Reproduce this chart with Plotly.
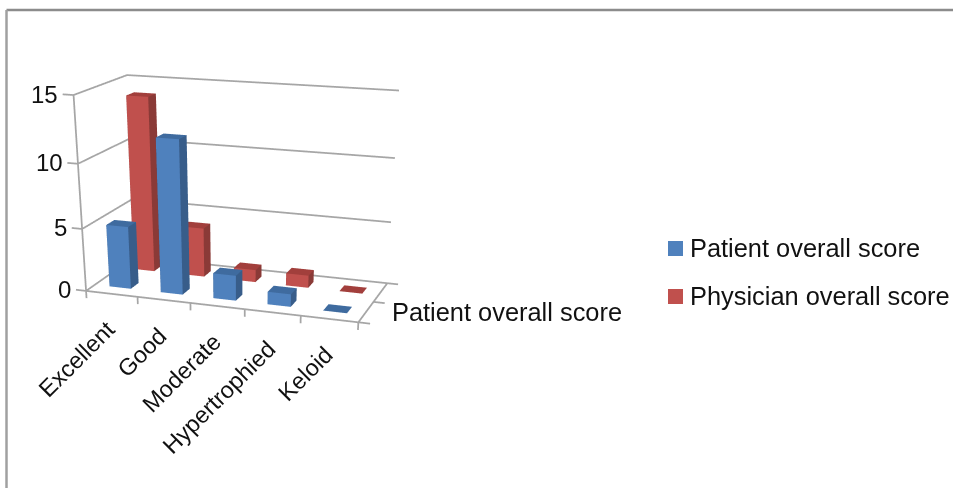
import plotly.graph_objects as go

categories = ["Excellent", "Good", "Moderate", "Hypertrophied", "Keloid"]
series_names = ["Patient overall score", "Physician overall score"]
patient_values = [5, 12, 2, 1, 0]
physician_values = [14, 4, 1, 1, 0]
z_ticks = [0, 5, 10, 15]

BAR_W = 0.42
BAR_D = 0.32
FONT = "Liberation Sans"
TXT = "#111111"
GRID = "#a6a6a6"
COL = [dict(front="#4f81bd", side="#385d8a", top="#3f6b9f"),
       dict(front="#c0504d", side="#8a3a37", top="#a23f3c")]
W, H = 953, 976  # the lower half falls below the window: a taller scene gives a flatter perspective


def bar_mesh(cat_i, ser_i, value, colors):
    x0, x1 = cat_i + 0.5 - BAR_W / 2, cat_i + 0.5 + BAR_W / 2
    y0, y1 = ser_i + 0.5 - BAR_D / 2, ser_i + 0.5 + BAR_D / 2
    xs = [x0, x1, x1, x0, x0, x1, x1, x0]
    ys = [y0, y0, y1, y1, y0, y0, y1, y1]
    zs = [0, 0, 0, 0, value, value, value, value]
    tris = [(0, 1, 5, "front"), (0, 5, 4, "front"),
            (1, 2, 6, "side"), (1, 6, 5, "side"),
            (4, 5, 6, "top"), (4, 6, 7, "top"),
            (0, 3, 7, "side"), (0, 7, 4, "side"),
            (3, 2, 6, "side"), (3, 6, 7, "side")]
    return go.Mesh3d(x=xs, y=ys, z=zs,
                     i=[t[0] for t in tris], j=[t[1] for t in tris], k=[t[2] for t in tris],
                     facecolor=[colors[t[3]] for t in tris], flatshading=True,
                     lighting=dict(ambient=1, diffuse=0, specular=0, roughness=1, fresnel=0),
                     hoverinfo="skip", showscale=False)


def line3d(xs, ys, zs):
    return go.Scatter3d(x=xs, y=ys, z=zs, mode="lines", line=dict(color=GRID, width=3.5),
                        hoverinfo="skip", showlegend=False)


fig = go.Figure()
nc, ns = len(categories), len(series_names)
for v in z_ticks[1:]:
    fig.add_trace(line3d([0, 0, nc], [0, ns, ns], [v, v, v]))
fig.add_trace(line3d([0, 0, nc, nc, 0], [0, ns, ns, 0, 0], [0, 0, 0, 0, 0]))
fig.add_trace(line3d([0, 0], [0, 0], [0, z_ticks[-1]]))
for v in z_ticks:
    fig.add_trace(line3d([0, -0.2], [0, 0], [v, v]))
for i in range(nc + 1):
    fig.add_trace(line3d([i, i], [0, 0], [0, -0.6]))
for j in range(ns + 1):
    fig.add_trace(line3d([nc, nc + 0.2], [j, j], [0, 0]))

for i in range(nc):
    fig.add_trace(bar_mesh(i, 1, physician_values[i], COL[1]))
    fig.add_trace(bar_mesh(i, 0, patient_values[i], COL[0]))

annots = []
for v in z_ticks:
    annots.append(dict(x=-0.25, y=0, z=v, text=str(v), showarrow=False, xanchor="right",
                       yanchor="middle", font=dict(family=FONT, size=24, color=TXT)))
for i, c in enumerate(categories):
    annots.append(dict(x=i + 0.7, y=0, z=-1.5, text=c, showarrow=False, textangle=-45,
                       xanchor="right", yanchor="top", font=dict(family=FONT, size=23.5, color=TXT)))
annots.append(dict(x=nc + 0.25, y=1.25, z=-1.1, text=series_names[0], showarrow=False, xanchor="left",
                   yanchor="middle", font=dict(family=FONT, size=25.4, color=TXT)))

axis = dict(visible=False, showspikes=False)
fx = lambda px: px / W
fy = lambda px: 1 - px / H
fig.update_layout(
    width=W, height=H, margin=dict(l=0, r=0, t=0, b=0),
    paper_bgcolor="white", showlegend=False,
    scene=dict(
        domain=dict(x=[0, 0.504], y=[0, 1]),
        xaxis=dict(axis, range=[-0.3, nc + 0.3]),
        yaxis=dict(axis, range=[-0.3, ns + 0.3]),
        zaxis=dict(axis, range=[-3, 15.5]),
        aspectmode="manual",
        aspectratio=dict(x=1.54, y=0.78, z=1.1436),
        camera=dict(eye=dict(x=1.843, y=-5.324, z=1.479), up=dict(x=0, y=0, z=1),
                    center=dict(x=0.222, y=-0.615, z=-1.169)),
        annotations=annots,
    ),
    shapes=[
        dict(type="line", xref="paper", yref="paper", x0=fx(6.5), x1=1, y0=fy(10), y1=fy(10),
             line=dict(color="#8c8c8c", width=2.5)),
        dict(type="line", xref="paper", yref="paper", x0=fx(6.5), x1=fx(6.5), y0=0, y1=fy(10),
             line=dict(color="#a0a0a0", width=2.5)),
        dict(type="rect", xref="paper", yref="paper", x0=fx(668), x1=fx(683), y0=fy(256), y1=fy(241),
             fillcolor=COL[0]["front"], line=dict(width=0)),
        dict(type="rect", xref="paper", yref="paper", x0=fx(668), x1=fx(683), y0=fy(304), y1=fy(289),
             fillcolor=COL[1]["front"], line=dict(width=0)),
    ],
    annotations=[
        dict(xref="paper", yref="paper", x=fx(688), y=fy(248), text=series_names[0], showarrow=False,
             xanchor="left", yanchor="middle", font=dict(family=FONT, size=25.4, color=TXT)),
        dict(xref="paper", yref="paper", x=fx(688), y=fy(296), text=series_names[1], showarrow=False,
             xanchor="left", yanchor="middle", font=dict(family=FONT, size=25.4, color=TXT)),
    ],
)
fig.write_html("out.html", config=dict(displayModeBar=False),
               post_script="document.body.style.margin='0';document.body.style.overflow='hidden';")
